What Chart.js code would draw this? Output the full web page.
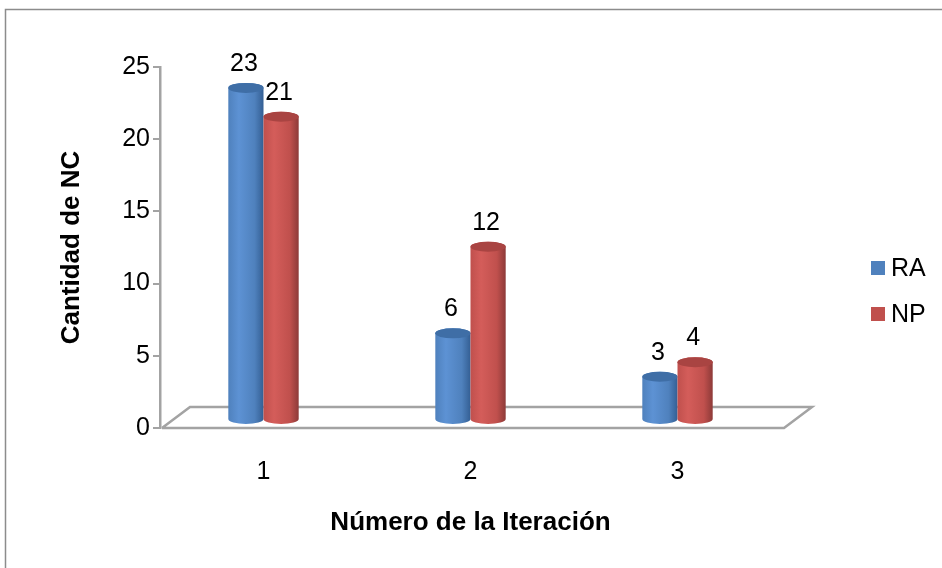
<!DOCTYPE html>
<html>
<head>
<meta charset="utf-8">
<script src="https://cdn.jsdelivr.net/npm/chart.js@4.4.1/dist/chart.umd.min.js"></script>
<style>
  body { margin: 0; background: #fff; }
</style>
</head>
<body>
<canvas id="barChart" width="942" height="568"></canvas>
<script>
const ctx = document.getElementById('barChart').getContext('2d');

// Data
const iteraciones = ['1', '2', '3'];
const serieRA = [23, 6, 3];
const serieNP = [21, 12, 4];
const nombresSeries = ['RA', 'NP'];

const azul = { side: '#4f81bd', light: '#5d92d4', dark: '#345f94', top: '#3f6ea6' };
const rojo = { side: '#c0504d', light: '#d45d5a', dark: '#8d3a38', top: '#a94442' };

const GRIS = '#a3a3a3';
const FUENTE = '"Liberation Sans", Arial, sans-serif';
const DEPTH_Y = -8; // cylinders sit halfway back on the floor

function cylinder(c, cx, w, yTop, yBot, col) {
    const rx = w / 2, ry = 5;
    const l = cx - rx, r = cx + rx;
    const g = c.createLinearGradient(l, 0, r, 0);
    g.addColorStop(0, col.side);
    g.addColorStop(0.3, col.light);
    g.addColorStop(0.75, col.side);
    g.addColorStop(1, col.dark);
    c.beginPath();
    c.moveTo(l, yTop);
    c.lineTo(l, yBot);
    c.ellipse(cx, yBot, rx, ry, 0, Math.PI, 0, true);
    c.lineTo(r, yTop);
    c.ellipse(cx, yTop, rx, ry, 0, 0, Math.PI, true);
    c.closePath();
    c.fillStyle = g;
    c.fill();
    // top cap
    c.beginPath();
    c.ellipse(cx, yTop, rx, ry, 0, 0, Math.PI * 2);
    c.fillStyle = col.top;
    c.fill();
}

const cilindros = {
    id: 'cilindros',
    beforeDatasetsDraw(chart) {
        const c = chart.ctx;
        const a = chart.chartArea;
        const y0 = chart.scales.y.getPixelForValue(0);
        // 3D floor
        c.save();
        c.strokeStyle = GRIS;
        c.lineWidth = 2.5;
        c.beginPath();
        c.moveTo(a.left + 2, y0);
        c.lineTo(a.left + 30, y0 - 21);
        c.lineTo(a.right + 31, y0 - 21);
        c.lineTo(a.right + 3, y0);
        c.lineTo(a.left + 2, y0);
        c.stroke();
        c.restore();
    },
    afterDatasetsDraw(chart) {
        const c = chart.ctx;
        c.save();
        const cols = [azul, rojo];
        chart.data.datasets.forEach((ds, i) => {
            chart.getDatasetMeta(i).data.forEach((bar) => {
                cylinder(c, bar.x, bar.width, bar.y + DEPTH_Y, bar.base + DEPTH_Y, cols[i]);
            });
        });
        // data labels
        c.fillStyle = '#000';
        c.font = '25px ' + FUENTE;
        c.textAlign = 'center';
        c.textBaseline = 'middle';
        chart.data.datasets.forEach((ds, i) => {
            chart.getDatasetMeta(i).data.forEach((bar, j) => {
                c.fillText(String(ds.data[j]), bar.x - 2, bar.y + DEPTH_Y - 24);
            });
        });
        c.restore();
    },
    afterDraw(chart) {
        const c = chart.ctx;
        c.save();
        // outer frame
        c.strokeStyle = '#8c8c8c';
        c.lineWidth = 1.5;
        c.beginPath();
        c.moveTo(5.5, 568);
        c.lineTo(5.5, 9.5);
        c.lineTo(942, 9.5);
        c.stroke();
        // legend
        const cols = [azul, rojo];
        c.font = '25px ' + FUENTE;
        c.textBaseline = 'middle';
        c.textAlign = 'left';
        nombresSeries.forEach((n, i) => {
            const yc = 268 + i * 46;
            c.fillStyle = cols[i].side;
            c.fillRect(871, yc - 7, 14, 14);
            c.fillStyle = '#000';
            c.fillText(n, 891, yc + 1);
        });
        c.restore();
    }
};

const chart = new Chart(ctx, {
    type: 'bar',
    data: {
        labels: iteraciones,
        datasets: [
            { label: nombresSeries[0], data: serieRA, backgroundColor: 'rgba(0,0,0,0)' },
            { label: nombresSeries[1], data: serieNP, backgroundColor: 'rgba(0,0,0,0)' }
        ]
    },
    options: {
        responsive: false,
        animation: false,
        layout: { padding: { top: 67, right: 161, left: 0, bottom: 0 } },
        plugins: {
            legend: { display: false },
            tooltip: { enabled: false }
        },
        datasets: {
            bar: { barPercentage: 1, categoryPercentage: 0.34 }
        },
        scales: {
            x: {
                grid: { display: false, drawTicks: false },
                border: { display: false },
                ticks: {
                    padding: 29,
                    color: '#000',
                    font: { family: FUENTE, size: 25 }
                },
                title: {
                    display: true,
                    text: 'Número de la Iteración',
                    color: '#000',
                    padding: { top: 0, bottom: 30 },
                    font: { family: FUENTE, size: 26, weight: 'bold' }
                },
                afterFit(scale) { scale.height = 140; }
            },
            y: {
                min: 0,
                max: 25,
                ticks: {
                    stepSize: 5,
                    padding: 3,
                    color: '#000',
                    font: { family: FUENTE, size: 25 }
                },
                grid: { drawOnChartArea: false, tickLength: 7, color: GRIS, lineWidth: 2 },
                border: { color: GRIS, width: 2.5 },
                title: {
                    display: true,
                    text: 'Cantidad de NC',
                    color: '#000',
                    padding: { top: 56, bottom: 0 },
                    font: { family: FUENTE, size: 26, weight: 'bold' }
                },
                afterFit(scale) { scale.width = 160; }
            }
        }
    },
    plugins: [cilindros]
});
</script>
</body>
</html>
